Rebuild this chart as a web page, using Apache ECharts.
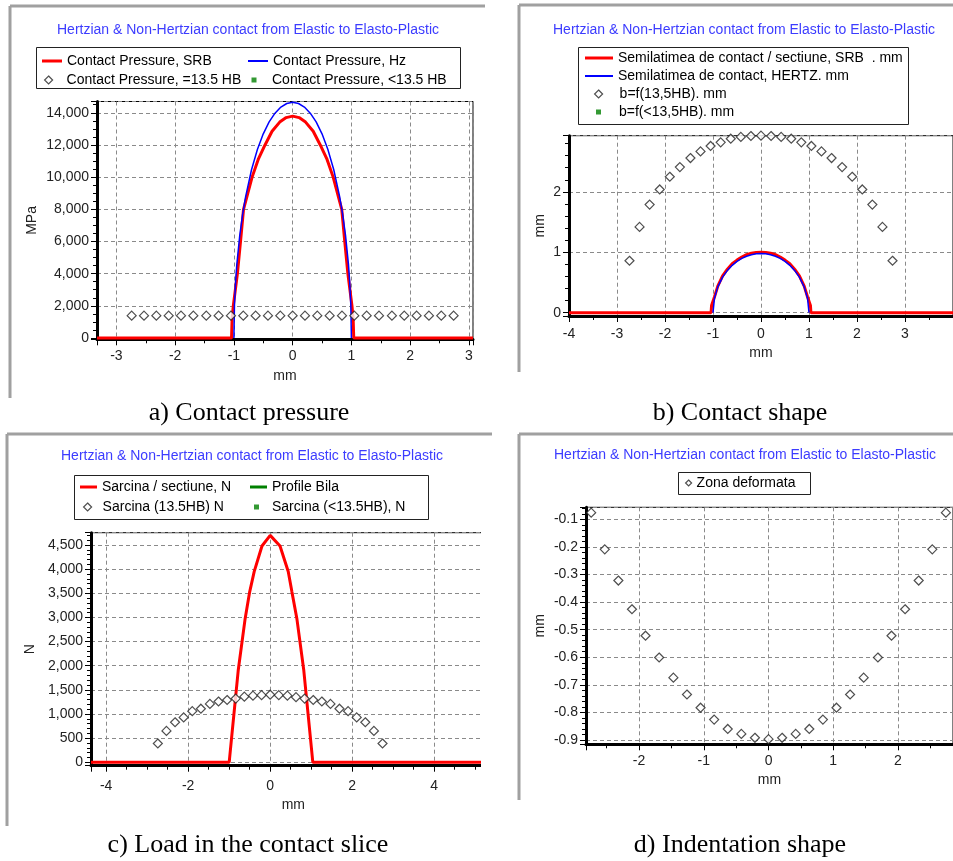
<!DOCTYPE html>
<html><head><meta charset="utf-8">
<script src="https://cdn.jsdelivr.net/npm/echarts@6/dist/echarts.min.js"></script>
<style>html,body{margin:0;padding:0;background:#fff}#c{width:953px;height:861px}</style>
</head><body><div id="c"></div>
<script>
// ---------- DATA ----------
const chartTitle = 'Hertzian & Non-Hertzian contact from Elastic to Elasto-Plastic';
const captions = ['a) Contact pressure', 'b) Contact shape', 'c) Load in the contact slice', 'd) Indentation shape'];

// shared x positions of the 13.5 HB diamond markers (mm)
const hbX = [-2.74,-2.53,-2.32,-2.11,-1.90,-1.69,-1.47,-1.26,-1.05,-0.84,-0.63,-0.42,-0.21,0,0.21,0.42,0.63,0.84,1.05,1.26,1.47,1.69,1.90,2.11,2.32,2.53,2.74];

// a) contact pressure (MPa)
const aSrbX = [-3.33,-1.04,-1.03,-1.01,-0.94,-0.887,-0.836,-0.69,-0.58,-0.47,-0.35,-0.22,-0.11,0,0.11,0.22,0.35,0.47,0.58,0.69,0.836,0.887,0.94,1.01,1.03,1.04,3.07];
const aSrbY = [0,0,1200,2000,4000,6000,8000,10000,11150,12000,12850,13420,13700,13790,13700,13420,12850,12000,11150,10000,8000,6000,4000,2000,1200,0,0];
const aHzX = [-1,-0.99,-0.97,-0.95,-0.9,-0.85,-0.8,-0.7,-0.6,-0.5,-0.4,-0.3,-0.2,-0.1,0,0.1,0.2,0.3,0.4,0.5,0.6,0.7,0.8,0.85,0.9,0.95,0.97,0.99,1];
const aHzY = [0,2065,3560,4575,6385,7720,8790,10460,11720,12690,13430,13975,14355,14575,14650,14575,14355,13975,13430,12690,11720,10460,8790,7720,6385,4575,3560,2065,0];
const aHbY = [1390,1390,1390,1390,1390,1390,1390,1390,1390,1390,1390,1390,1390,1390,1390,1390,1390,1390,1390,1390,1390,1390,1390,1390,1390,1390,1390];

// b) contact shape (mm)
const bSrbX = [-4,-1.04,-1.03,-0.97,-0.9,-0.8,-0.7,-0.6,-0.5,-0.4,-0.3,-0.2,-0.1,0,0.1,0.2,0.3,0.4,0.5,0.6,0.7,0.8,0.9,0.97,1.03,1.04,4];
const bSrbY = [0,0,0.12,0.26,0.44,0.61,0.72,0.81,0.87,0.92,0.96,0.985,0.998,1.0,0.998,0.985,0.96,0.92,0.87,0.81,0.72,0.61,0.44,0.26,0.12,0,0];
const bHzX = [-1,-0.97,-0.9,-0.8,-0.7,-0.6,-0.5,-0.4,-0.3,-0.2,-0.1,0,0.1,0.2,0.3,0.4,0.5,0.6,0.7,0.8,0.9,0.97,1];
const bHzY = [0,0.238,0.427,0.588,0.70,0.784,0.849,0.898,0.935,0.959,0.975,0.98,0.975,0.959,0.935,0.898,0.849,0.784,0.70,0.588,0.427,0.238,0];
const bHbY = [0.86,1.42,1.79,2.04,2.25,2.41,2.56,2.67,2.76,2.82,2.88,2.91,2.925,2.93,2.925,2.91,2.88,2.82,2.76,2.67,2.56,2.41,2.25,2.04,1.79,1.42,0.86];

// c) load in the contact slice (N)
const cLoadX = [-4.37,-1.0,-0.78,-0.61,-0.5,-0.39,-0.2,0,0.24,0.44,0.53,0.65,0.82,1.04,5.5];
const cLoadY = [0,0,1900,2980,3530,3950,4480,4700,4480,3950,3530,2980,1900,0,0];
const cHbY = [390,650,830,930,1060,1110,1210,1260,1290,1320,1360,1380,1390,1400,1390,1380,1350,1320,1290,1260,1210,1110,1060,930,830,650,390];

// d) indentation shape (mm)
const dZoneY = [-0.076,-0.209,-0.322,-0.426,-0.522,-0.601,-0.674,-0.735,-0.783,-0.826,-0.860,-0.878,-0.892,-0.897,-0.892,-0.878,-0.860,-0.826,-0.783,-0.735,-0.674,-0.601,-0.522,-0.426,-0.322,-0.209,-0.076];

// ---------- CHART ----------
const FONT = "'Liberation Sans', Arial, sans-serif";
const zip = (xs, ys) => xs.map((x, i) => [x, ys[i]]);
const fmtComma = v => Math.round(v).toLocaleString('en-US');

function xAx(gi, min, max, split, o) {
  return {
    gridIndex: gi, type: 'value', min, max, splitNumber: split,
    axisLine: { onZero: false, lineStyle: { color: '#000', width: 3 } },
    axisTick: { show: true, inside: false, length: 6, lineStyle: { color: '#000' } },
    minorTick: { show: true, splitNumber: o.minor || 2, length: 4, lineStyle: { color: '#000' } },
    splitLine: { show: true, lineStyle: { color: '#8a8a8a', type: [4, 3], width: 1 } },
    axisLabel: { color: '#222', fontSize: 14, fontFamily: FONT, margin: o.margin, showMinLabel: o.showMin, showMaxLabel: false },
    name: 'mm', nameLocation: 'middle', nameGap: o.nameGap,
    nameTextStyle: { color: '#222', fontSize: 14, fontFamily: FONT }
  };
}
function yAx(gi, min, max, split, o) {
  return {
    gridIndex: gi, type: 'value', min, max, splitNumber: split,
    axisLine: { onZero: false, lineStyle: { color: '#000', width: 3 } },
    axisTick: { show: true, inside: false, length: 6, lineStyle: { color: '#000' } },
    minorTick: { show: true, splitNumber: o.minor, length: 4, lineStyle: { color: '#000' } },
    splitLine: { show: true, lineStyle: { color: '#8a8a8a', type: [4, 3], width: 1 } },
    axisLabel: { color: '#222', fontSize: 14, fontFamily: FONT, margin: 8, showMinLabel: false, showMaxLabel: false, formatter: o.fmt },
    name: o.name, nameLocation: 'middle', nameRotate: 90, nameGap: o.nameGap,
    nameTextStyle: { color: '#222', fontSize: 14, fontFamily: FONT }
  };
}
function leg(name, left, cy, w, h, extra) {
  const l = {
    data: [name], left, top: cy - 8, orient: 'vertical', padding: 0, itemWidth: w, itemHeight: h,
    selectedMode: false,
    textStyle: { color: '#000', fontSize: 14, fontFamily: FONT, lineHeight: 16 }
  };
  if (extra && extra.pad) l.textStyle.padding = [0, 0, 0, extra.pad];
  if (extra && extra.line) { l.icon = 'rect'; l.itemStyle = { color: extra.line, borderWidth: 0 }; }
  if (extra && extra.diamond) l.itemStyle = { color: '#fff', borderColor: '#222', borderWidth: 1.2 };
  return l;
}
const diamondStyle = { color: '#fff', borderColor: '#222', borderWidth: 1.2 };
const gridBase = { show: true, borderColor: '#000', borderWidth: 1, backgroundColor: 'transparent', containLabel: false };

const frame = (x1, y1, x2, y3) => ([
  { type: 'line', shape: { x1: x1, y1: y1, x2: x2, y2: y1 }, style: { stroke: '#a0a0a0', lineWidth: 3 }, z: 1 },
  { type: 'line', shape: { x1: x1, y1: y1, x2: x1, y2: y3 }, style: { stroke: '#a0a0a0', lineWidth: 3 }, z: 1 }
]);
const box = (x, y, w, h) => ({ type: 'rect', shape: { x: x + 0.5, y: y + 0.5, width: w, height: h }, style: { fill: 'none', stroke: '#222', lineWidth: 1 }, z: 1 });
const ttl = (x, y) => ({ type: 'text', x, y, style: { text: chartTitle, fill: '#3c3cff', font: '14px ' + FONT, align: 'center', verticalAlign: 'middle' }, z: 5 });
const cap = (t, x, y) => ({ type: 'text', x, y, style: { text: t, fill: '#000', font: '26px "Liberation Serif", "Times New Roman", serif', align: 'center', verticalAlign: 'middle' }, z: 5 });

const option = {
  animation: false,
  backgroundColor: '#fff',
  grid: [
    Object.assign({ left: 97, top: 101.5, width: 376, height: 237.8 }, gridBase),
    Object.assign({ left: 569, top: 135.7, width: 389, height: 180.3 }, gridBase),
    Object.assign({ left: 91, top: 532.7, width: 404.7, height: 233 }, gridBase),
    Object.assign({ left: 586, top: 507.3, width: 373, height: 237 }, gridBase)
  ],
  xAxis: [
    xAx(0, -3.33, 3.07, 6, { margin: 10, showMin: false, nameGap: 30 }),
    xAx(1, -4, 4, 8, { margin: 11, showMin: true, nameGap: 30 }),
    xAx(2, -4.37, 5.5, 5, { margin: 13, showMin: false, nameGap: 32, minor: 4 }),
    xAx(3, -2.82, 2.85, 6, { margin: 10, showMin: false, nameGap: 29 })
  ],
  yAxis: [
    yAx(0, -80, 14700, 7, { name: 'MPa', nameGap: 58, minor: 4, fmt: fmtComma }),
    yAx(1, -0.055, 2.93, 3, { name: 'mm', nameGap: 22, minor: 5, fmt: v => String(Math.round(v)) }),
    yAx(2, -70, 4755, 10, { name: 'N', nameGap: 54, minor: 5, fmt: fmtComma }),
    yAx(3, -0.9156, -0.0565, 9, { name: 'mm', nameGap: 39, minor: 5, fmt: v => v.toFixed(1) })
  ],
  legend: [
    leg('Contact Pressure, SRB', 42, 61, 20, 3, { line: '#ff0000' }),
    leg('Contact Pressure, Hz', 248, 61, 20, 2, { line: '#0000ff' }),
    leg('Contact Pressure, =13.5 HB', 44, 80, 8, 8, { pad: 9, diamond: true }),
    leg('Contact Pressure, <13.5 HB', 251.5, 80, 5, 5, { pad: 10.5 }),

    leg('Semilatimea de contact / sectiune, SRB  . mm', 585, 58, 28, 3, { line: '#ff0000' }),
    leg('Semilatimea de contact, HERTZ. mm', 585, 76, 28, 2, { line: '#0000ff' }),
    leg('b=f(13,5HB). mm', 594, 94, 8, 8, { pad: 12, diamond: true }),
    leg('b=f(<13,5HB). mm', 596, 112, 5, 5, { pad: 13 }),

    leg('Sarcina / sectiune, N', 80, 487, 17, 3, { line: '#ff0000' }),
    leg('Profile Bila', 250, 487, 17, 3, { line: '#008000' }),
    leg('Sarcina (13.5HB) N', 83, 507, 8, 8, { pad: 6, diamond: true }),
    leg('Sarcina (<13.5HB), N', 254, 507, 5, 5, { pad: 8 }),

    leg('Zona deformata', 685, 483, 6, 6, { diamond: true })
  ],
  graphic: [].concat(
    frame(10, 6, 485, 398), frame(519, 5, 953, 372), frame(7, 434, 492, 826), frame(519, 434, 953, 800),
    [
      { type: 'rect', shape: { x: 481, y: 470, width: 36, height: 360 }, style: { fill: '#fff' }, z: 100 },
      box(36, 47, 424, 41), box(578, 47, 330, 77), box(74, 475, 354, 44), box(678, 472, 132, 22),
      ttl(248, 30.5), ttl(744, 30), ttl(252, 456.5), ttl(745, 455),
      cap(captions[0], 249, 413), cap(captions[1], 740, 413), cap(captions[2], 248, 845), cap(captions[3], 740, 845)
    ]
  ),
  series: [
    { name: 'Contact Pressure, SRB', type: 'line', xAxisIndex: 0, yAxisIndex: 0, data: zip(aSrbX, aSrbY), symbol: 'none', lineStyle: { color: '#ff0000', width: 3 }, itemStyle: { color: '#ff0000' }, z: 2 },
    { name: 'Contact Pressure, Hz', type: 'line', xAxisIndex: 0, yAxisIndex: 0, data: zip(aHzX, aHzY), symbol: 'none', lineStyle: { color: '#0000ff', width: 1.5 }, itemStyle: { color: '#0000ff' }, z: 3 },
    { name: 'Contact Pressure, =13.5 HB', type: 'scatter', xAxisIndex: 0, yAxisIndex: 0, data: zip(hbX, aHbY), symbol: 'diamond', symbolSize: 9, itemStyle: diamondStyle, z: 4 },
    { name: 'Contact Pressure, <13.5 HB', type: 'scatter', xAxisIndex: 0, yAxisIndex: 0, data: [], symbol: 'rect', itemStyle: { color: '#008000' } },

    { name: 'Semilatimea de contact / sectiune, SRB  . mm', type: 'line', xAxisIndex: 1, yAxisIndex: 1, data: zip(bSrbX, bSrbY), symbol: 'none', lineStyle: { color: '#ff0000', width: 3 }, itemStyle: { color: '#ff0000' }, z: 2 },
    { name: 'Semilatimea de contact, HERTZ. mm', type: 'line', xAxisIndex: 1, yAxisIndex: 1, data: zip(bHzX, bHzY), symbol: 'none', lineStyle: { color: '#0000ff', width: 1.5 }, itemStyle: { color: '#0000ff' }, z: 3 },
    { name: 'b=f(13,5HB). mm', type: 'scatter', xAxisIndex: 1, yAxisIndex: 1, data: zip(hbX, bHbY), symbol: 'diamond', symbolSize: 9, itemStyle: diamondStyle, z: 4 },
    { name: 'b=f(<13,5HB). mm', type: 'scatter', xAxisIndex: 1, yAxisIndex: 1, data: [], symbol: 'rect', itemStyle: { color: '#008000' } },

    { name: 'Sarcina / sectiune, N', type: 'line', xAxisIndex: 2, yAxisIndex: 2, data: zip(cLoadX, cLoadY), symbol: 'none', lineStyle: { color: '#ff0000', width: 3 }, itemStyle: { color: '#ff0000' }, z: 2 },
    { name: 'Profile Bila', type: 'line', xAxisIndex: 2, yAxisIndex: 2, data: [], symbol: 'none', lineStyle: { color: '#008000', width: 3 }, itemStyle: { color: '#008000' } },
    { name: 'Sarcina (13.5HB) N', type: 'scatter', xAxisIndex: 2, yAxisIndex: 2, data: zip(hbX, cHbY), symbol: 'diamond', symbolSize: 9, itemStyle: diamondStyle, z: 4 },
    { name: 'Sarcina (<13.5HB), N', type: 'scatter', xAxisIndex: 2, yAxisIndex: 2, data: [], symbol: 'rect', itemStyle: { color: '#008000' } },

    { name: 'Zona deformata', type: 'scatter', xAxisIndex: 3, yAxisIndex: 3, data: zip(hbX, dZoneY), symbol: 'diamond', symbolSize: 9, itemStyle: diamondStyle, z: 4 }
  ]
};
const chart = echarts.init(document.getElementById('c'), null, { renderer: 'canvas' });
chart.setOption(option);
</script></body></html>
